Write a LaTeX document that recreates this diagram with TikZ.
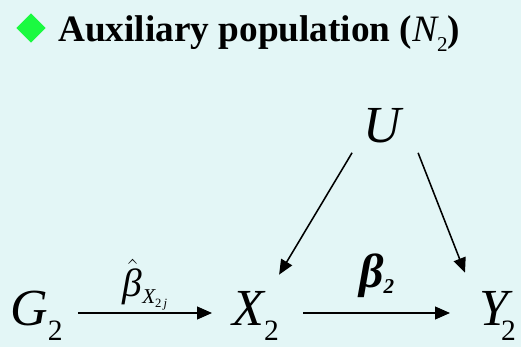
\documentclass[tikz,border=0pt]{standalone}
\usepackage{amsmath}
\usepackage{fontspec}
\setmainfont{Liberation Serif}
\usetikzlibrary{positioning,arrows.meta,shapes.geometric,calc}
\definecolor{bgcyan}{RGB}{227,246,246}
\definecolor{markgreen}{RGB}{26,250,64}
% lowered subscript: size, drop, text
\newcommand{\lowsub}[3]{\raisebox{-#2}{\fontsize{#1}{#1}\selectfont #3}}

\begin{document}
\begin{tikzpicture}[
  x=0.025cm, y=-0.025cm, >={Triangle[length=10.5pt,width=9pt]},
  var/.style={inner sep=0pt, anchor=base west, font=\fontsize{37}{40}\selectfont},
  lbl/.style={inner sep=0pt},
  arr/.style={->, line width=1.1pt, color=black},
]
% background, fixes the size
\fill[bgcyan] (0,0) rectangle (521,347);
\useasboundingbox (0,0) rectangle (521,347);

\node[diamond, fill=markgreen, inner sep=0pt, minimum width=21pt, minimum height=21pt] (mark) at (31,28) {};
\node[anchor=base west, inner sep=0pt, font=\fontsize{26.5}{30}\selectfont\bfseries] (title) at (58,42)
  {Auxiliary population ({\mdseries\itshape N}\lowsub{15}{7pt}{\mdseries 2})};

\node[var] (g) at (10,326) {{\itshape G}\lowsub{21}{10.5pt}{2}};
\node[var] (x) at (232,326) {{\itshape X}\lowsub{21}{10.5pt}{2}};
\node[var] (y) at (479,326) {{\itshape Y}\kern-5pt\lowsub{21}{10.5pt}{2}};
\node[var] (u) at (363,143) {\itshape U};

\draw[arr] ($(g.base east)+(15,-13)$) --
  node[lbl, above=1.5pt, font=\fontsize{28}{30}\selectfont] (bhat)
  {$\hat{\text{\itshape β}}$\lowsub{15}{5pt}{{\itshape X}\lowsub{9}{3pt}{2\,\itshape j}}}
  ($(x.base west)+(-20,-13)$);
\draw[arr] ($(x.base east)+(24,-13)$) --
  node[lbl, above=10pt, font=\fontsize{34}{36}\selectfont\bfseries\itshape] (beta)
  {β\lowsub{15}{4pt}{2}}
  ($(y.base west)+(-29,-13)$);

\draw[arr] ($(u.south)+(-30,9)$) -- ($(x.north east)+(0,-17)$);
\draw[arr] ($(u.south)+(36,9)$) -- ($(y.north west)+(-14,-19)$);
\end{tikzpicture}
\end{document}
